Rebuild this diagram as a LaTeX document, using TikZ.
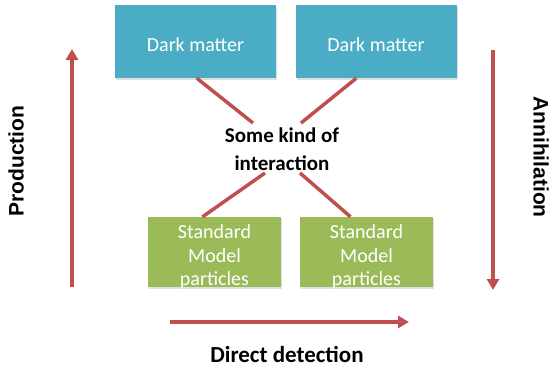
\documentclass[tikz,border=0pt]{standalone}
\usepackage{fontspec}
\setmainfont{Carlito}
\newfontfamily\labelfont{Liberation Sans}
\usetikzlibrary{arrows.meta,shadows}

\definecolor{dmblue}{HTML}{4BACC6}
\definecolor{smgreen}{HTML}{9BBB59}
\definecolor{linkred}{HTML}{C0504D}

\newcommand{\boxtext}[1]{\raisebox{-10.5pt}[0pt][0pt]{\begin{tabular}{@{}c@{}}#1\end{tabular}}}

\begin{document}
\begin{tikzpicture}[x=1pt,y=-1pt,
    dmbox/.style={fill=dmblue,text=white,minimum width=161pt,minimum height=73pt,
        inner sep=0pt,font=\fontsize{20}{22}\selectfont,
        drop shadow={shadow xshift=1pt,shadow yshift=-1.5pt,opacity=0.25}},
    smbox/.style={fill=smgreen,text=white,minimum width=133pt,minimum height=70pt,
        inner sep=0pt,font=\fontsize{20}{23.5}\selectfont,
        drop shadow={shadow xshift=1pt,shadow yshift=-1.5pt,opacity=0.25}},
    link/.style={linkred,line width=3.5pt},
    flow/.style={linkred,line width=3.5pt,-{Triangle[length=11pt,width=12pt]}},
    sidelabel/.style={font=\labelfont\bfseries\fontsize{21}{24}\selectfont}]
    \useasboundingbox (0,0) rectangle (554,367);

    % Dark matter on top
    \node[dmbox] (dmleft) at (195.5,41.5) {\boxtext{Dark matter}};
    \node[dmbox] (dmright) at (376,41.5) {\boxtext{Dark matter}};

    % Interaction in the middle
    \node[font=\bfseries\fontsize{21}{28}\selectfont,align=center] (inter) at (282,149)
        {Some kind of\\interaction};

    % Standard Model particles below
    \node[smbox] (smleft) at (214.5,252) {\boxtext{Standard\\Model\\particles}};
    \node[smbox] (smright) at (366.5,252) {\boxtext{Standard\\Model\\particles}};

    % Links through the interaction
    \coordinate (inTL) at (253,123);
    \coordinate (inTR) at (301,123);
    \coordinate (inBL) at (265,173);
    \coordinate (inBR) at (300,173);
    \draw[link] (dmleft.south west) ++(82,0) coordinate (dmlfoot) -- (inTL);
    \draw[link] (dmright.south west) ++(61,0) coordinate (dmrfoot) -- (inTR);
    \draw[link] (inBL) -- ([xshift=-12pt]smleft.north);
    \draw[link] (inBR) -- ([xshift=-16pt]smright.north);

    % Arrows round the picture
    \coordinate (prodbot) at (72,287);
    \coordinate (prodtop) at (72,49);
    \coordinate (annitop) at (493,50);
    \coordinate (annibot) at (493,290);
    \coordinate (detleft) at (170,322);
    \coordinate (detright) at (409,322);
    \draw[flow] (prodbot) -- (prodtop);
    \draw[flow] (annitop) -- (annibot);
    \draw[flow] (detleft) -- (detright);

    \node[sidelabel,rotate=90] (prodlabel) at (16,161) {Production};
    \node[sidelabel,rotate=-90] (annilabel) at (541,157) {Annihilation};
    \node[font=\bfseries\fontsize{23}{27}\selectfont] (detlabel) at (287,354) {Direct detection};
\end{tikzpicture}
\end{document}
